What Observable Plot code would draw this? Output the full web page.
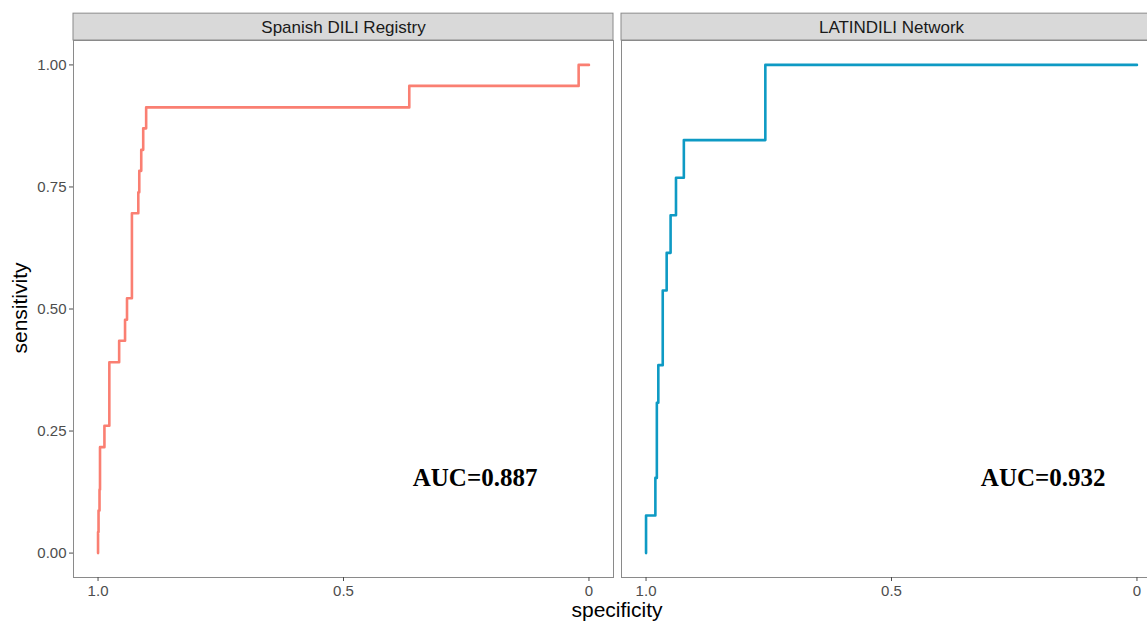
<!DOCTYPE html>
<html>
<head>
<meta charset="utf-8">
<script src="https://cdn.jsdelivr.net/npm/d3@7"></script>
<script src="https://cdn.jsdelivr.net/npm/@observablehq/plot@0.6"></script>
<style>
  html, body { margin: 0; padding: 0; background: white; overflow: hidden; }
  #wrap { position: relative; width: 1147px; height: 621px; overflow: hidden; background: white; }
</style>
</head>
<body>
<div id="wrap"></div>
<script>
// ---- data ----
const panels = ["Spanish DILI Registry", "LATINDILI Network"];
const panelColors = ["#FA7F72", "#0E9AC4"];

// Spanish DILI Registry ROC (specificity, sensitivity) step corners
const spanishSpec = [1.000, 1.000, 0.999, 0.997, 0.996, 0.987, 0.977, 0.957, 0.945, 0.941, 0.931, 0.918, 0.916, 0.912, 0.908, 0.902, 0.366, 0.021, 0.000];
const spanishSens = [0.000, 0.043, 0.087, 0.130, 0.217, 0.261, 0.391, 0.435, 0.478, 0.522, 0.696, 0.739, 0.783, 0.826, 0.870, 0.913, 0.957, 1.000, 1.000];

// LATINDILI Network ROC
const latinSpec = [1.000, 1.000, 0.981, 0.978, 0.975, 0.966, 0.958, 0.950, 0.939, 0.923, 0.757, 0.000];
const latinSens = [0.000, 0.077, 0.154, 0.308, 0.385, 0.538, 0.615, 0.692, 0.769, 0.846, 1.000, 1.000];

const aucLabels = ["AUC=0.887", "AUC=0.932"];
const aucSpec = [0.232, 0.191];
const aucSens = [0.154, 0.154];

const yTicks = [0, 0.25, 0.5, 0.75, 1];
const xTicks = [1, 0.5, 0];
const xTickLabels = ["1.0", "0.5", "0"];

// ---- build tables ----
const rows = [
  ...spanishSpec.map((s, i) => ({panel: panels[0], spec: s, sens: spanishSens[i]})),
  ...latinSpec.map((s, i) => ({panel: panels[1], spec: s, sens: latinSens[i]}))
];
const aucRows = aucLabels.map((t, i) => ({panel: panels[i], label: t, spec: aucSpec[i], sens: aucSens[i]}));

const xDomain = [1.05, -0.05];
const yDomain = [-0.05, 1.05];
const stripTop = 1.105; // strip band above the panel (in y units)
const strips = panels.map(p => ({panel: p}));

const chart = Plot.plot({
  width: 1162,
  height: 621,
  marginLeft: 73,
  marginRight: 1,
  marginTop: 40,
  marginBottom: 44,
  style: {fontFamily: "'Liberation Sans', Arial, sans-serif", maxWidth: "none", background: "white", overflow: "visible"},
  fx: {domain: panels, padding: 0.0146, axis: null},
  x: {domain: xDomain},
  y: {domain: yDomain},
  color: {domain: panels, range: panelColors},
  marks: [
    Plot.rect(strips, {fx: "panel", x1: () => xDomain[0], x2: () => xDomain[1], y1: () => yDomain[1], y2: () => stripTop, fill: "#D9D9D9", stroke: "#8a8a8a", strokeWidth: 1}),
    Plot.axisFx({anchor: "top", tickSize: 0, tickPadding: 8, fontSize: 17, label: null, color: "#1a1a1a"}),
    Plot.frame({stroke: "#8a8a8a", strokeWidth: 1}),
    Plot.axisY({ticks: yTicks, tickFormat: d3.format(".2f"), tickSize: 4, tickPadding: 3, fontSize: 15, color: "#4d4d4d", label: null}),
    Plot.axisX({ticks: xTicks, tickFormat: (d, i) => xTickLabels[xTicks.indexOf(d)], tickSize: 4, tickPadding: 4, fontSize: 15, color: "#4d4d4d", label: null}),
    Plot.line(rows, {fx: "panel", x: "spec", y: "sens", stroke: "panel", strokeWidth: 2.6, curve: "step-after"}),
    Plot.text(aucRows, {fx: "panel", x: "spec", y: "sens", text: "label", fontSize: 25, fontWeight: "bold", fontFamily: "'Liberation Serif', 'Times New Roman', serif", fill: "black"})
  ]
});

document.getElementById("wrap").appendChild(chart);

// axis titles
const svg = d3.select(chart);
svg.append("text")
  .attr("x", 617).attr("y", 617)
  .attr("text-anchor", "middle")
  .attr("font-size", 21)
  .attr("fill", "black")
  .text("specificity");
svg.append("text")
  .attr("transform", "translate(27,308) rotate(-90)")
  .attr("text-anchor", "middle")
  .attr("font-size", 21)
  .attr("fill", "black")
  .text("sensitivity");
</script>
</body>
</html>
